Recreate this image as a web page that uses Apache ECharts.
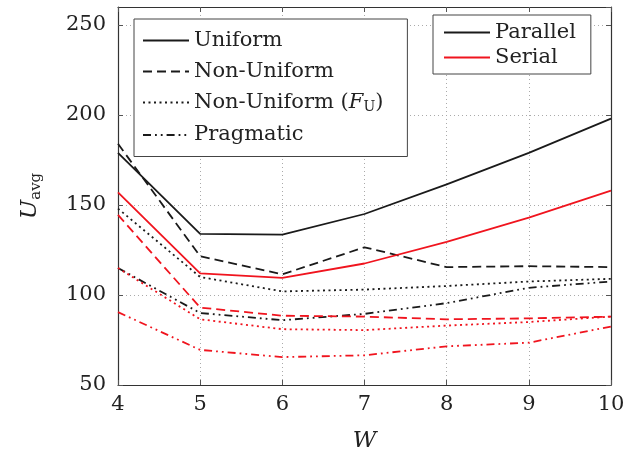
<!DOCTYPE html>
<html>
<head>
<meta charset="utf-8">
<script src="https://cdn.jsdelivr.net/npm/echarts@6/dist/echarts.min.js"></script>
<style>
  html, body { margin: 0; padding: 0; background: #fff; }
  #chart { width: 641px; height: 458px; }
</style>
</head>
<body>
<div id="chart"></div>
<script>
// W values on the x axis
const wValues = [4, 5, 6, 7, 8, 9, 10];

// Parallel (black)
const parUniform      = [179, 134, 133.5, 145, 161.5, 179, 198];
const parNonUniform   = [184, 121.5, 111.5, 126.5, 115.5, 116, 115.5];
const parNonUniformFU = [148, 110, 102, 103, 105, 107.5, 109];
const parPragmatic    = [115, 90, 86, 89.5, 95.5, 104, 107.5];

// Serial (red)
const serUniform      = [157, 112, 109.5, 117.5, 129.5, 143, 158];
const serNonUniform   = [144.5, 93, 88.5, 88, 86.5, 87, 88];
const serNonUniformFU = [115, 86.5, 81, 80.5, 83, 85, 88];
const serPragmatic    = [90.5, 69.5, 65.5, 66.5, 71.5, 73.5, 82.5];

const methodNames = ['Uniform', 'Non-Uniform', 'Non-Uniform (F_U)', 'Pragmatic'];
const modeNames = ['Parallel', 'Serial'];

const BLACK = '#1a1a1a';
const RED = '#f0141e';
const FONT = 'DejaVu Serif';

// dash patterns for each method
const dashTypes = ['solid', [9, 5], [2, 3.5], [8, 4, 1.8, 4, 1.8, 4]];

function pairs(ys) {
    return ys.map((y, i) => [wValues[i], y]);
}

function lineSeries(name, ys, color, dash) {
    return {
        name: name,
        type: 'line',
        data: pairs(ys),
        symbol: 'none',
        silent: true,
        lineStyle: { color: color, width: 1.8, type: dash },
        itemStyle: { color: color },
        z: 3
    };
}

var dom = document.getElementById('chart');
var myChart = echarts.init(dom, null, { renderer: 'canvas' });

const dataSeries = [
    lineSeries('p0', parUniform, BLACK, dashTypes[0]),
    lineSeries('p1', parNonUniform, BLACK, dashTypes[1]),
    lineSeries('p2', parNonUniformFU, BLACK, dashTypes[2]),
    lineSeries('p3', parPragmatic, BLACK, dashTypes[3]),
    lineSeries('s0', serUniform, RED, dashTypes[0]),
    lineSeries('s1', serNonUniform, RED, dashTypes[1]),
    lineSeries('s2', serNonUniformFU, RED, dashTypes[2]),
    lineSeries('s3', serPragmatic, RED, dashTypes[3])
];

// empty series only used for the two legends
const legendSeries = methodNames.map((n, i) => lineSeries(n, [], BLACK, dashTypes[i]))
    .concat([lineSeries('Parallel', [], BLACK, 'solid'), lineSeries('Serial', [], RED, 'solid')]);

const legendText = {
    fontFamily: FONT,
    fontSize: 21,
    color: '#222',
    rich: {
        a: { fontFamily: FONT, fontSize: 21, color: '#222' },
        i: { fontFamily: FONT, fontSize: 21, fontStyle: 'italic', color: '#222' },
        s: { fontFamily: FONT, fontSize: 14, color: '#222', padding: [10, 0, 0, 0] }
    }
};

var option = {
    animation: false,
    backgroundColor: '#fff',
    grid: { left: 118, right: 30, top: 7, bottom: 73 },
    legend: [
        {
            data: methodNames,
            orient: 'vertical',
            left: 134,
            top: 19,
            itemWidth: 46,
            itemHeight: 14,
            itemGap: 10,
            padding: [11, 24, 11, 8],
            backgroundColor: '#fff',
            borderColor: '#444',
            borderWidth: 1,
            selectedMode: false,
            itemStyle: { opacity: 0 },
            lineStyle: { width: 2 },
            textStyle: legendText,
            formatter: function (name) {
                if (name === 'Non-Uniform (F_U)') {
                    return '{a|Non-Uniform (}{i|F}{s|U}{a|)}';
                }
                return '{a|' + name + '}';
            }
        },
        {
            data: modeNames,
            orient: 'vertical',
            left: 433,
            top: 15,
            itemWidth: 46,
            itemHeight: 14,
            itemGap: 4,
            padding: [7, 15, 6, 10],
            backgroundColor: '#fff',
            borderColor: '#444',
            borderWidth: 1,
            selectedMode: false,
            itemStyle: { opacity: 0 },
            lineStyle: { width: 2 },
            textStyle: legendText
        }
    ],
    xAxis: [
        {
            type: 'value',
            min: 4,
            max: 10,
            interval: 1,
            name: 'W',
            nameLocation: 'middle',
            nameGap: 45,
            nameTextStyle: { fontFamily: FONT, fontSize: 23, fontStyle: 'italic', color: '#222' },
            axisLine: { show: true, lineStyle: { color: '#333', width: 1.2 } },
            axisTick: { show: true, inside: true, length: 5, lineStyle: { color: '#555' } },
            axisLabel: { fontFamily: FONT, fontSize: 21, color: '#222', margin: 9 },
            splitLine: { show: true, lineStyle: { color: '#aaa', type: [1, 3], width: 1 } }
        },
        {
            type: 'value',
            position: 'top',
            min: 4,
            max: 10,
            interval: 1,
            axisLine: { show: true, lineStyle: { color: '#333', width: 1.2 } },
            axisTick: { show: true, inside: true, length: 5, lineStyle: { color: '#555' } },
            axisLabel: { show: false },
            splitLine: { show: false }
        }
    ],
    yAxis: [
        {
            type: 'value',
            min: 50,
            max: 260,
            interval: 50,
            name: '{u|U}{s|avg}',
            nameLocation: 'middle',
            nameRotate: 90,
            nameGap: 74,
            nameTextStyle: {
                rich: {
                    u: { fontFamily: FONT, fontSize: 23, fontStyle: 'italic', color: '#222' },
                    s: { fontFamily: FONT, fontSize: 15, color: '#222', padding: [12, 0, 0, 0] }
                }
            },
            axisLine: { show: true, lineStyle: { color: '#333', width: 1.2 } },
            axisTick: { show: true, inside: true, length: 5, lineStyle: { color: '#555' } },
            axisLabel: { fontFamily: FONT, fontSize: 21, color: '#222', margin: 12, showMaxLabel: false },
            splitLine: { show: true, lineStyle: { color: '#aaa', type: [1, 3], width: 1 } }
        },
        {
            type: 'value',
            position: 'right',
            min: 50,
            max: 260,
            interval: 50,
            axisLine: { show: true, lineStyle: { color: '#333', width: 1.2 } },
            axisTick: { show: true, inside: true, length: 5, lineStyle: { color: '#555' } },
            axisLabel: { show: false },
            splitLine: { show: false }
        }
    ],
    series: dataSeries.concat(legendSeries)
};

myChart.setOption(option);
window.addEventListener('resize', myChart.resize);
</script>
</body>
</html>
